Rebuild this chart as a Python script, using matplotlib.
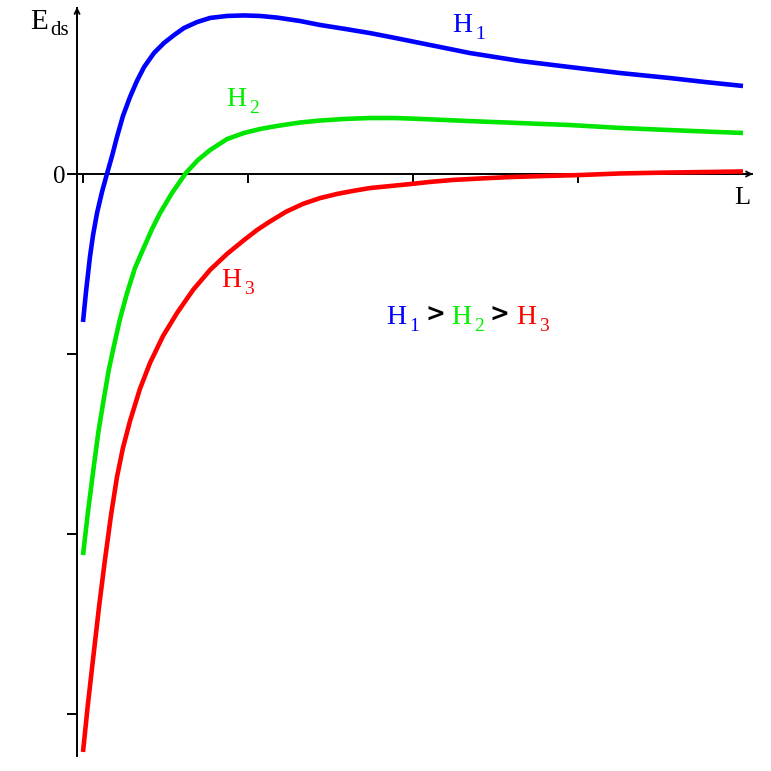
import matplotlib
matplotlib.use("Agg")
import matplotlib.pyplot as plt

# ---- data ----
h1_x = [0.000, 0.018, 0.042, 0.061, 0.085, 0.115, 0.145, 0.176, 0.206, 0.242, 0.285,
        0.327, 0.370, 0.430, 0.491, 0.552, 0.612, 0.691, 0.770, 0.873, 0.976, 1.073,
        1.176, 1.315, 1.436, 1.588, 1.739, 1.891, 2.042, 2.194, 2.345, 2.497, 2.648,
        2.800, 2.952, 3.255, 3.558, 3.770, 4.000]
h1_y = [-0.822, -0.656, -0.461, -0.339, -0.217, -0.100, 0.000, 0.100, 0.206, 0.322, 0.428,
        0.517, 0.594, 0.672, 0.728, 0.772, 0.811, 0.844, 0.867, 0.878, 0.881, 0.878,
        0.869, 0.850, 0.828, 0.806, 0.783, 0.756, 0.728, 0.700, 0.672, 0.650, 0.628,
        0.611, 0.594, 0.561, 0.533, 0.511, 0.489]

h2_x = [0.000, 0.030, 0.065, 0.094, 0.125, 0.155, 0.186, 0.224, 0.267, 0.315, 0.370,
        0.418, 0.467, 0.539, 0.624, 0.697, 0.770, 0.873, 0.976, 1.073, 1.176, 1.315,
        1.436, 1.588, 1.739, 1.891, 2.042, 2.345, 2.648, 2.952, 3.255, 3.558, 3.770, 4.000]
h2_y = [-2.117, -1.878, -1.628, -1.428, -1.256, -1.094, -0.961, -0.806, -0.661, -0.522, -0.406,
        -0.306, -0.217, -0.106, 0.006, 0.078, 0.133, 0.194, 0.228, 0.250, 0.267, 0.286,
        0.297, 0.306, 0.311, 0.311, 0.306, 0.294, 0.283, 0.272, 0.256, 0.244, 0.236, 0.228]

h3_x = [0.000, 0.030, 0.061, 0.097, 0.133, 0.170, 0.206, 0.242, 0.285, 0.345, 0.406,
        0.485, 0.570, 0.667, 0.770, 0.873, 0.976, 1.055, 1.133, 1.230, 1.333, 1.436,
        1.539, 1.636, 1.739, 1.861, 1.982, 2.103, 2.242, 2.406, 2.588, 2.800, 3.006,
        3.255, 3.539, 3.770, 4.000]
h3_y = [-3.211, -2.944, -2.694, -2.406, -2.144, -1.894, -1.683, -1.522, -1.372, -1.194, -1.050,
        -0.900, -0.772, -0.644, -0.533, -0.444, -0.367, -0.311, -0.264, -0.210, -0.166, -0.134,
        -0.111, -0.094, -0.078, -0.067, -0.056, -0.044, -0.033, -0.025, -0.017, -0.011, -0.006,
        0.003, 0.008, 0.011, 0.014]

x_ticks = [0, 1, 2, 3]
y_ticks = [-1, -2, -3]

BLUE = "#0000FF"
GREEN = "#00E600"
GREEN_TXT = "#00F000"
RED = "#FF0000"
SERIF = "Liberation Serif"

W = H = 771
fig = plt.figure(figsize=(W / 100, H / 100), dpi=100)
ax = fig.add_axes([0, 0, 1, 1])
ax.set_facecolor("white")

ax.set_xlim(-83 / 165, (771 - 83) / 165)
ax.set_ylim((174 - 771) / 180, 174 / 180)

for s in ("top", "right"):
    ax.spines[s].set_visible(False)
ax.spines["left"].set_position(("data", -0.036))
ax.spines["bottom"].set_position(("data", 0))
ax.spines["left"].set_bounds((174 - 756) / 180, (174 - 8) / 180)
ax.spines["bottom"].set_bounds((68 - 83) / 165, (752 - 83) / 165)
for s in ("left", "bottom"):
    ax.spines[s].set_linewidth(1.4)
    ax.spines[s].set_zorder(1)

ax.set_xticks(x_ticks)
ax.set_xticklabels([])
ax.set_yticks(y_ticks)
ax.set_yticklabels([])
ax.tick_params(axis="x", direction="out", length=6.5, width=1.4)
ax.tick_params(axis="y", direction="out", length=7, width=1.4)

# arrow heads
ax.annotate("", xy=((753 - 83) / 165, 0), xytext=((740 - 83) / 165, 0),
            arrowprops=dict(arrowstyle="->", lw=1.3, color="black",
                            shrinkA=0, shrinkB=0, mutation_scale=9))
ax.annotate("", xy=(-0.036, (174 - 7) / 180), xytext=(-0.036, (174 - 20) / 180),
            arrowprops=dict(arrowstyle="->", lw=1.3, color="black",
                            shrinkA=0, shrinkB=0, mutation_scale=9))

# curves
for xs, ys, c in ((h1_x, h1_y, BLUE), (h2_x, h2_y, GREEN), (h3_x, h3_y, RED)):
    ax.plot(xs, ys, color=c, lw=3.3, solid_capstyle="butt",
            solid_joinstyle="round", zorder=3)


def ptext(px, py, s, color="black", size=20, family=SERIF, weight="normal", ha="left"):
    return fig.text(px / W, 1 - py / H, s, color=color, fontsize=size,
                    family=family, weight=weight, ha=ha, va="baseline")


def hlabel(px, py, n, color, sub_dx=3, sub_dy=7):
    t = ptext(px, py, "H", color)
    fig.canvas.draw()
    bb = t.get_window_extent()
    ptext(bb.x1 + sub_dx, py + sub_dy, str(n), color, size=14)


# axis labels
ptext(30, 29, "E", size=21)
ptext(50, 35, "ds", size=15)
ptext(66, 183, "0", size=18, ha="right")
ptext(734, 204, "L", size=19)

# curve labels
hlabel(452, 32, 1, BLUE)
hlabel(226, 106, 2, GREEN_TXT)
hlabel(221, 287, 3, RED)

# ordering text
hlabel(386, 324, 1, BLUE)
ptext(425, 322, ">", size=17, family="DejaVu Sans", weight="bold")
hlabel(451, 324, 2, GREEN_TXT)
ptext(490, 322, ">", size=17, family="DejaVu Sans", weight="bold")
hlabel(516, 324, 3, RED)

fig.savefig("out.png", dpi=100, facecolor="white")
